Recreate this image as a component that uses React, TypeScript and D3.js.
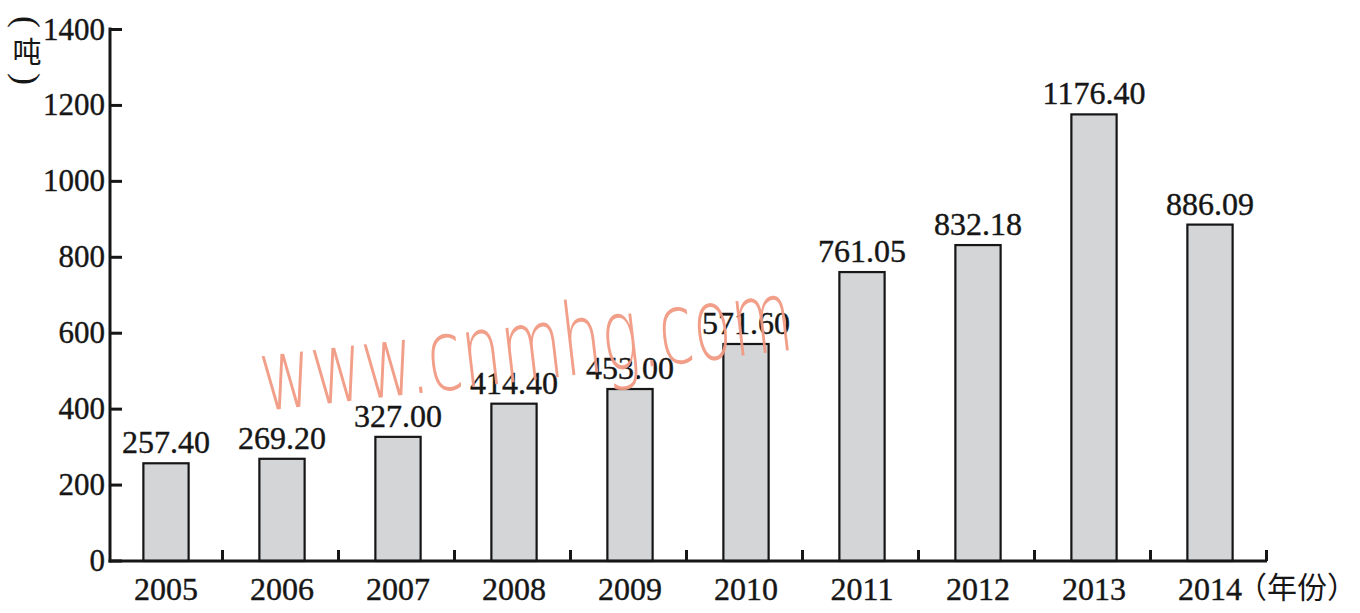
import React from "react";
import * as d3 from "d3";

const years = ["2005", "2006", "2007", "2008", "2009", "2010", "2011", "2012", "2013", "2014"];
const values = [257.4, 269.2, 327.0, 414.4, 453.0, 571.6, 761.05, 832.18, 1176.4, 886.09];
const yTicks = [0, 200, 400, 600, 800, 1000, 1200, 1400];

const W = 1360;
const H = 613;
const x0 = 110;
const x1 = 1267;
const yBottom = 561;
const yTop = 29.5;

export default function App() {
  const x = d3.scaleBand<string>().domain(years).range([x0 - 2, x1 + 1]).paddingInner(0.61).paddingOuter(0.305);
  const y = d3.scaleLinear().domain([0, 1400]).range([yBottom, yTop]);
  const step = x.step();
  const serif = "'Liberation Serif', 'DejaVu Serif', serif";
  const cjk = "'Noto Sans CJK SC', sans-serif";
  const ink = "#161616";
  return (
    <svg width={W} height={H} viewBox={`0 0 ${W} ${H}`} style={{ position: "fixed", left: 0, top: 0, background: "#fff" }}>
      <rect x={0} y={0} width={W} height={H} fill="#fff" />
      {/* bars */}
      {years.map((yr, i) => (
        <rect
          key={yr}
          x={x(yr)!}
          y={y(values[i])}
          width={x.bandwidth()}
          height={yBottom - y(values[i])}
          fill="#d3d5d7"
          stroke={ink}
          strokeWidth={2.2}
        />
      ))}
      {/* value labels */}
      {years.map((yr, i) => (
        <text
          key={"v" + yr}
          x={x(yr)! + x.bandwidth() / 2}
          y={y(values[i]) - 10}
          textAnchor="middle"
          fontFamily={serif}
          fontSize={32}
          stroke={ink}
          strokeWidth={0.4}
          fill={ink}
        >
          {values[i].toFixed(2)}
        </text>
      ))}
      {/* axes */}
      <line x1={x0} x2={x0} y1={yTop - 2} y2={yBottom + 1.5} stroke={ink} strokeWidth={3} />
      <line x1={x0 - 1.5} x2={x1} y1={yBottom} y2={yBottom} stroke={ink} strokeWidth={3} />
      {yTicks.map((t) => (
        <g key={"yt" + t}>
          <line x1={x0} x2={x0 + 12} y1={y(t)} y2={y(t)} stroke={ink} strokeWidth={3} />
          <text x={x0 - 5} y={y(t) + 10} textAnchor="end" fontFamily={serif} fontSize={31} stroke={ink} strokeWidth={0.4} fill={ink}>
            {t}
          </text>
        </g>
      ))}
      {years.map((yr) => (
        <line
          key={"xt" + yr}
          x1={x(yr)! + x.bandwidth() / 2 + step / 2 - 1.5}
          x2={x(yr)! + x.bandwidth() / 2 + step / 2 - 1.5}
          y1={yBottom}
          y2={yBottom - 11}
          stroke={ink}
          strokeWidth={3}
        />
      ))}
      {years.map((yr) => (
        <text
          key={"xl" + yr}
          x={x(yr)! + x.bandwidth() / 2}
          y={600}
          textAnchor="middle"
          fontFamily={serif}
          fontSize={32}
          stroke={ink}
          strokeWidth={0.4}
          fill={ink}
        >
          {yr}
        </text>
      ))}
      <text x={1237} y={598} fontFamily={cjk} fontSize={30} fill={ink}>
        （年份）
      </text>
      {/* y unit: vertical parentheses around 吨 */}
      <text x={0} y={0} transform="translate(27,22) rotate(90)" textAnchor="middle" dominantBaseline="central" fontFamily={serif} fontSize={36} fill={ink}>
        (
      </text>
      <text x={27} y={63} textAnchor="middle" fontFamily={cjk} fontSize={29} fill={ink}>
        吨
      </text>
      <text x={0} y={0} transform="translate(27,79) rotate(90)" textAnchor="middle" dominantBaseline="central" fontFamily={serif} fontSize={36} fill={ink}>
        )
      </text>
      {/* watermark */}
      <text
        x={264}
        y={411}
        transform="rotate(-6.6 264 411)"
        fontFamily="'DejaVu Sans', sans-serif"
        fontWeight={200}
        fontSize={100}
        textLength={535}
        lengthAdjust="spacingAndGlyphs"
        fill="#f29a84"
        opacity={0.95}
      >
        www.cnmhg.com
      </text>
    </svg>
  );
}
